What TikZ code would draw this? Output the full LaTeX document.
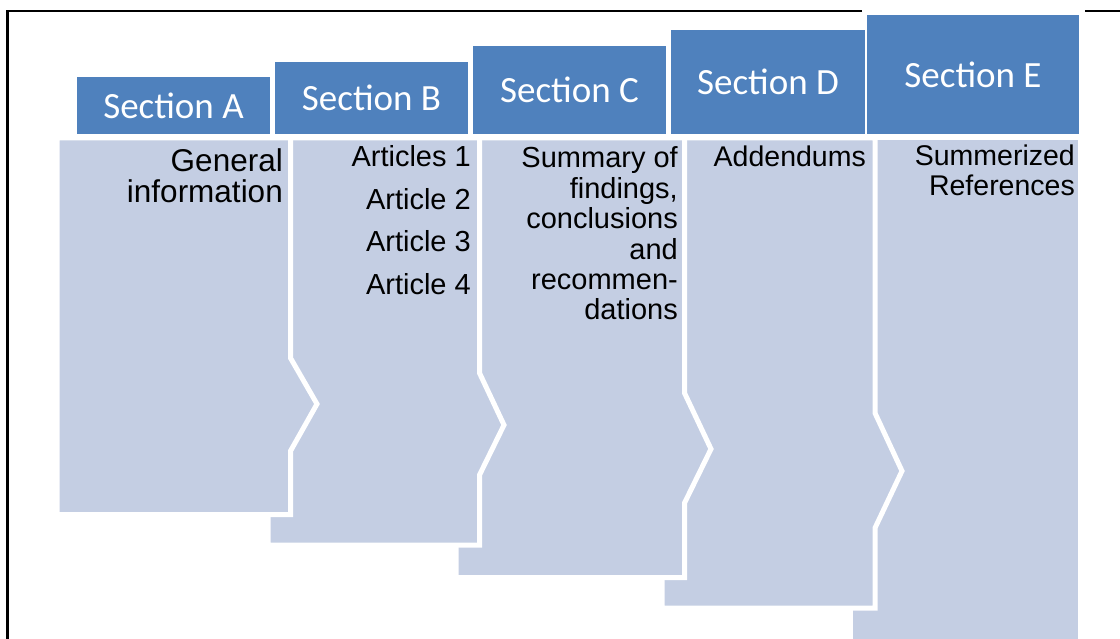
\documentclass[tikz,border=0pt]{standalone}
\usepackage{fontspec}
\newfontfamily\headfont{Carlito}
\newfontfamily\bodyfont{Liberation Sans}
\definecolor{headblue}{HTML}{4F81BD}
\definecolor{bodyblue}{HTML}{C4CEE3}

\begin{document}
\begin{tikzpicture}[x=1pt,y=-1pt,
  header/.style={fill=headblue, draw=none, inner sep=0, text=white,
                 font=\headfont\fontsize{37}{40}\selectfont},
  body/.style={fill=bodyblue, draw=white, line width=5pt, line join=miter},
  bodytext/.style={anchor=base east, inner sep=0, text=black},
  frame/.style={draw=black, line width=2.6pt}]

\useasboundingbox (0,0) rectangle (1120,639);

% outer frame
\draw[frame] (1120,11) -- (1085,11);
\draw[frame] (862,11) -- (7.7,11) -- (7.7,639);

% body panels, back to front
\path[body] (850,138) -- (1080,138) -- (1080,641) -- (850,641) -- cycle;
\path[body] (662,138) -- (875,138) -- (875,413) -- (902,471) -- (875,528)
            -- (875,608) -- (662,608) -- cycle;
\path[body] (456,138) -- (684.5,138) -- (684.5,393) -- (711,449) -- (684.5,503)
            -- (684.5,577.5) -- (456,577.5) -- cycle;
\path[body] (268,138) -- (479.5,138) -- (479.5,373) -- (504,425) -- (479.5,475)
            -- (479.5,545) -- (268,545) -- cycle;
\path[body] (57,138) -- (290.5,138) -- (290.5,358) -- (317,404) -- (290.5,451)
            -- (290.5,514.5) -- (57,514.5) -- cycle;

% section headers
\node[header, minimum width=193, minimum height=57]  (hA) at (173.5,105.5) {Section A};
\node[header, minimum width=193, minimum height=72]  (hB) at (371.5,98)    {Section B};
\node[header, minimum width=193, minimum height=88]  (hC) at (569.5,90)    {Section C};
\node[header, minimum width=194, minimum height=104] (hD) at (768,82)      {Section D};
\node[header, minimum width=212, minimum height=119] (hE) at (973,74.5)    {Section E};

% panel texts
\node[bodytext, font=\bodyfont\fontsize{31.5}{31}\selectfont] (tA) at (283,172)
  {\parbox[t]{220pt}{\raggedleft General\\information}};
\node[bodytext, font=\bodyfont\fontsize{29}{42.5}\selectfont] (tB) at (471,167)
  {\parbox[t]{200pt}{\raggedleft Articles 1\\Article 2\\Article 3\\Article 4}};
\node[bodytext, font=\bodyfont\fontsize{29}{30.4}\selectfont] (tC) at (678,168)
  {\parbox[t]{210pt}{\raggedleft Summary of\\findings,\\conclusions\\and\\recommen-\\dations}};
\node[bodytext, font=\bodyfont\fontsize{28.5}{30}\selectfont] (tD) at (866,167)
  {\parbox[t]{200pt}{\raggedleft Addendums}};
\node[bodytext, font=\bodyfont\fontsize{28.5}{30}\selectfont] (tE) at (1075,166)
  {\parbox[t]{210pt}{\raggedleft Summerized\\References}};

\end{tikzpicture}
\end{document}
